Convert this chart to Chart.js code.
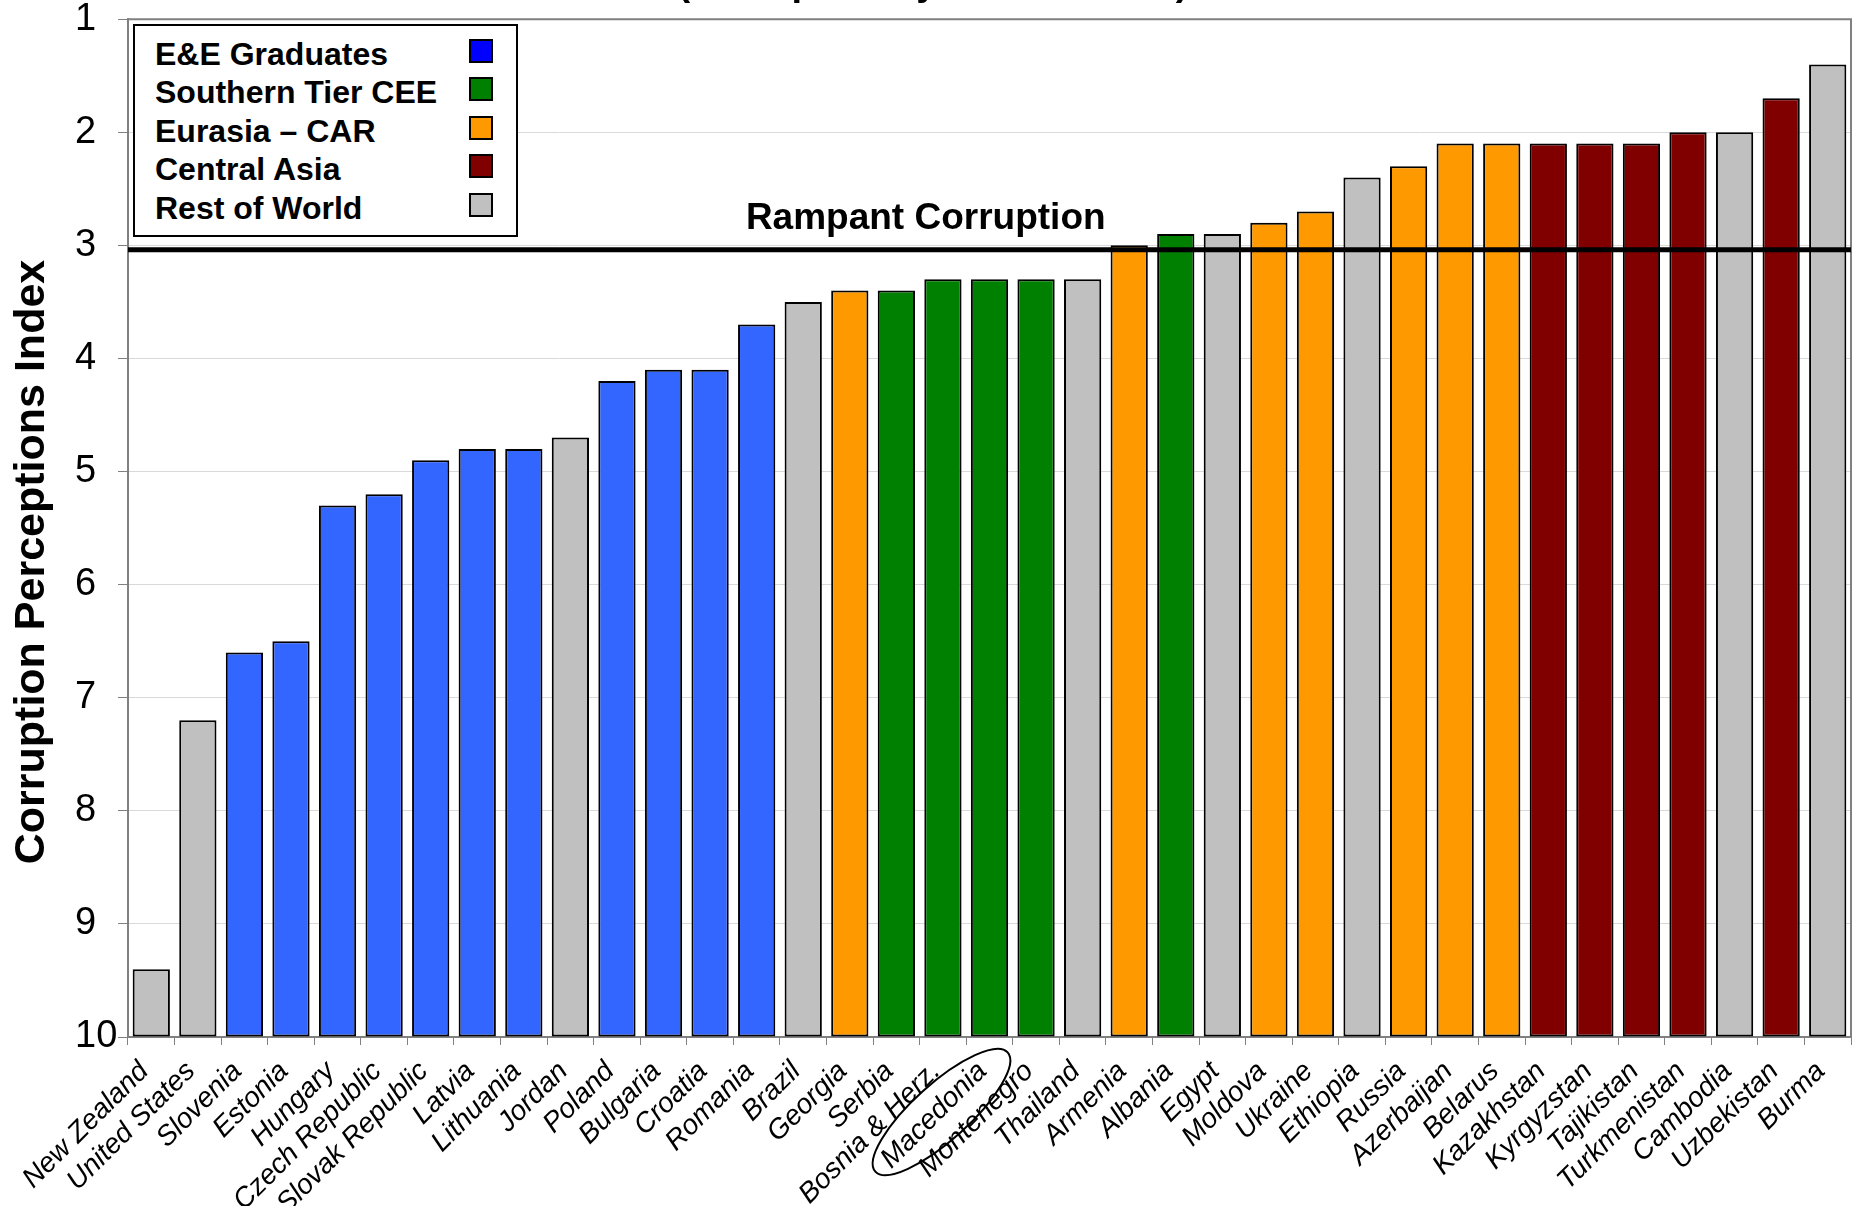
<!DOCTYPE html>
<html>
<head>
<meta charset="utf-8">
<script src="https://cdn.jsdelivr.net/npm/chart.js@4.4.0/dist/chart.umd.min.js"></script>
<style>
  body { margin: 0; background: #fff; }
  #wrap { position: relative; width: 1854px; height: 1206px; }
  #legend {
    position: absolute; left: 133px; top: 24px; width: 381px; height: 209px;
    border: 2px solid #000; background: #fff;
    font: bold 32px "Liberation Sans", Arial, sans-serif; color: #000;
  }
  #legend .row { position: absolute; left: 20px; height: 38px; line-height: 38px; white-space: nowrap; }
  #legend .sw { position: absolute; left: 334px; width: 20px; height: 20px; border: 2px solid #000; }
</style>
</head>
<body>
<div id="wrap">
  <canvas id="cpiChart" width="1854" height="1206"></canvas>
  <div id="legend"></div>
</div>
<script>
// CPI 2007 scores, lowest corruption on the left
const countries = ['New Zealand', 'United States', 'Slovenia', 'Estonia', 'Hungary', 'Czech Republic',
  'Slovak Republic', 'Latvia', 'Lithuania', 'Jordan', 'Poland', 'Bulgaria', 'Croatia', 'Romania',
  'Brazil', 'Georgia', 'Serbia', 'Bosnia & Herz.', 'Macedonia', 'Montenegro', 'Thailand', 'Armenia',
  'Albania', 'Egypt', 'Moldova', 'Ukraine', 'Ethiopia', 'Russia', 'Azerbaijan', 'Belarus',
  'Kazakhstan', 'Kyrgyzstan', 'Tajikistan', 'Turkmenistan', 'Cambodia', 'Uzbekistan', 'Burma'];
const scores = [9.4, 7.2, 6.6, 6.5, 5.3, 5.2, 4.9, 4.8, 4.8, 4.7, 4.2, 4.1, 4.1, 3.7,
  3.5, 3.4, 3.4, 3.3, 3.3, 3.3, 3.3, 3.0, 2.9, 2.9, 2.8, 2.7, 2.4, 2.3, 2.1, 2.1,
  2.1, 2.1, 2.1, 2.0, 2.0, 1.7, 1.4];
const regionOf = ['row', 'row', 'ee', 'ee', 'ee', 'ee', 'ee', 'ee', 'ee', 'row', 'ee', 'ee', 'ee', 'ee',
  'row', 'eur', 'st', 'st', 'st', 'st', 'row', 'eur', 'st', 'row', 'eur', 'eur', 'row', 'eur', 'eur', 'eur',
  'ca', 'ca', 'ca', 'ca', 'row', 'ca', 'row'];
const regionKeys = ['ee', 'st', 'eur', 'ca', 'row'];
const regionNames = ['E&E Graduates', 'Southern Tier CEE', 'Eurasia \u2013 CAR', 'Central Asia', 'Rest of World'];
const yTicks = [1, 2, 3, 4, 5, 6, 7, 8, 9, 10];
const rampantLevel = 3.04;
const rampantLabel = 'Rampant Corruption';
const circled = 'Macedonia';

const barColors = { ee: '#3366ff', st: '#008000', eur: '#ff9900', ca: '#800000', row: '#c0c0c0' };
const legendColors = { ee: '#0000ff', st: '#008000', eur: '#ff9900', ca: '#800000', row: '#c0c0c0' };

// legend box
const legend = document.getElementById('legend');
const rowTops = [9, 47, 86, 124, 163];
regionKeys.forEach((k, i) => {
  const row = document.createElement('div');
  row.className = 'row';
  row.style.top = rowTops[i] + 'px';
  row.textContent = regionNames[i];
  legend.appendChild(row);
  const sw = document.createElement('div');
  sw.className = 'sw';
  sw.style.top = (rowTops[i] + 4) + 'px';
  sw.style.background = legendColors[k];
  legend.appendChild(sw);
});

const FONT = '"Liberation Sans", Arial, sans-serif';

const extras = {
  id: 'extras',
  afterDraw(chart) {
    const { ctx, chartArea: a, scales: { x, y } } = chart;
    ctx.save();
    // plot frame top/right
    ctx.strokeStyle = '#808080';
    ctx.lineWidth = 2;
    ctx.beginPath();
    ctx.moveTo(a.left, a.top);
    ctx.lineTo(a.right, a.top);
    ctx.lineTo(a.right, a.bottom);
    ctx.stroke();

    // rampant corruption threshold
    const ry = y.getPixelForValue(rampantLevel);
    ctx.strokeStyle = '#000';
    ctx.lineWidth = 5;
    ctx.beginPath();
    ctx.moveTo(a.left, ry);
    ctx.lineTo(a.right, ry);
    ctx.stroke();
    ctx.fillStyle = '#000';
    ctx.font = 'bold 37px ' + FONT;
    ctx.textAlign = 'center';
    ctx.textBaseline = 'alphabetic';
    ctx.fillText(rampantLabel, a.left + (a.right - a.left) * 0.463, ry - 21);

    // cut-off subtitle at the very top
    ctx.font = 'bold 38px ' + FONT;
    ctx.fillText('(Transparency International)', 933, -5);

    // y axis title
    ctx.save();
    ctx.translate(32, 562);
    ctx.rotate(-Math.PI / 2);
    ctx.font = 'bold 43px ' + FONT;
    ctx.textBaseline = 'middle';
    ctx.fillText('Corruption Perceptions Index', 0, 0);
    ctx.restore();

    // ellipse around circled label
    const mx = x.getPixelForValue(countries.indexOf(circled));
    ctx.strokeStyle = '#000';
    ctx.lineWidth = 2;
    ctx.beginPath();
    ctx.ellipse(mx - 48, a.bottom + 75, 89, 28, -42 * Math.PI / 180, 0, 2 * Math.PI);
    ctx.stroke();
    ctx.restore();
  }
};

new Chart(document.getElementById('cpiChart'), {
  type: 'bar',
  data: {
    labels: countries,
    datasets: [{
      data: scores,
      base: 10,
      backgroundColor: regionOf.map(r => barColors[r]),
      borderColor: '#000',
      borderWidth: 2,
      borderSkipped: false,
      barPercentage: 0.8,
      categoryPercentage: 1.0
    }]
  },
  options: {
    responsive: false,
    animation: false,
    layout: { padding: { top: 17, left: 75, right: 3, bottom: 0 } },
    plugins: { legend: { display: false }, tooltip: { enabled: false } },
    scales: {
      x: {
        afterFit: s => { s.height = 169; s.paddingLeft = 0; s.paddingRight = 0; },
        grid: { drawOnChartArea: false, tickColor: '#808080', tickLength: 8, offset: true },
        border: { color: '#808080', width: 2 },
        ticks: {
          autoSkip: false, minRotation: 45, maxRotation: 45, padding: 10, labelOffset: -7,
          color: '#000', font: { family: FONT, size: 28, style: 'italic' }
        }
      },
      y: {
        reverse: true,
        min: 1,
        max: 10,
        afterFit: s => { s.width = 53; },
        afterBuildTicks: s => { s.ticks = yTicks.map(v => ({ value: v })); },
        grid: { color: '#d9d9d9', lineWidth: 1, tickColor: '#808080', tickLength: 10 },
        border: { color: '#808080', width: 2 },
        ticks: {
          crossAlign: 'far', color: '#000',
          font: { family: FONT, size: 38, lineHeight: 0.85 }
        }
      }
    }
  },
  plugins: [extras]
});
</script>
</body>
</html>
